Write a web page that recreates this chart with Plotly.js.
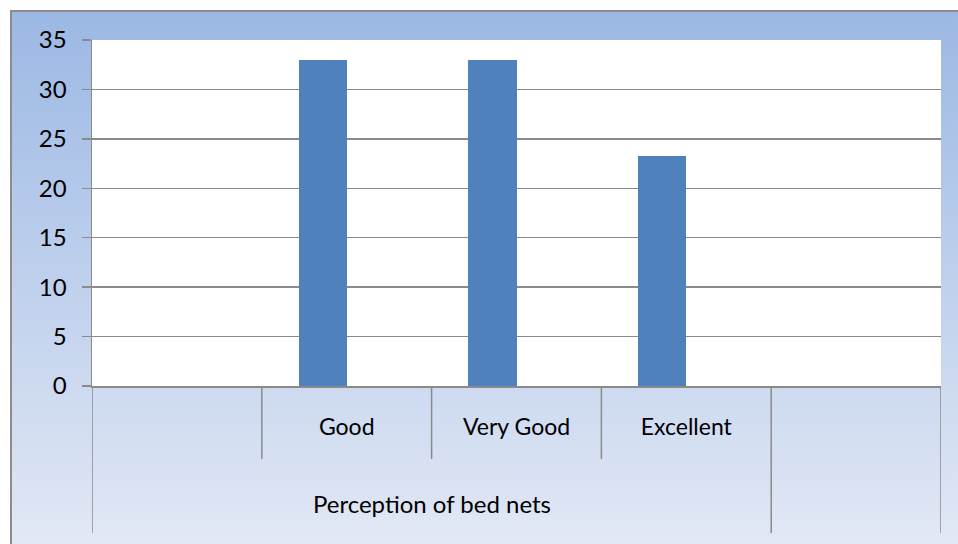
<!DOCTYPE html>
<html>
<head>
<meta charset="utf-8">
<script src="https://cdn.plot.ly/plotly-3.0.1.min.js"></script>
<style>
  html, body { margin: 0; padding: 0; background: #ffffff; }
  #wrap { position: relative; width: 958px; height: 544px; overflow: hidden; background: #ffffff; }
  #frame { position: absolute; left: 10px; top: 10px; width: 1000px; height: 600px;
           border-left: 2px solid #8c8c8c; border-top: 2px solid #8c8c8c;
           background: linear-gradient(to bottom, #9bb8e4 0px, #e2e8f5 534px); }
  #chart { position: absolute; left: 0; top: 0; width: 958px; height: 544px; }
</style>
</head>
<body>
<div id="wrap">
  <div id="frame"></div>
  <div id="chart"></div>
</div>
<script>
// ---- data ----
const categories = ["", "Good", "Very Good", "Excellent", ""];
const groups = ["Perception of bed nets", "Perception of bed nets", "Perception of bed nets", "Perception of bed nets", ""];
const values = [null, 33, 33, 23.3, null];
const yTicks = [0, 5, 10, 15, 20, 25, 30, 35];

// ---- build ----
const xIdx = categories.map((c, i) => i);
const FONT = "Lato, 'Open Sans', 'DejaVu Sans', sans-serif";
const LINE = "#8a8a8a";

const trace = {
  type: "bar",
  x: xIdx,
  y: values,
  width: 0.283,
  offset: -0.283,
  marker: { color: "#4f81bd", line: { width: 0 } },
  hoverinfo: "x+y"
};

// divider lines below the axis
const shapes = [];
const short = -73 / 346, long = -147 / 346;
for (let b = 0; b <= categories.length; b++) {
  const xb = b - 0.5;
  const left = b - 1 >= 0 ? groups[b - 1] : null;
  const right = b < categories.length ? groups[b] : null;
  const isGroupEdge = left !== right;
  shapes.push({
    type: "line", xref: "x", yref: "paper",
    x0: xb, x1: xb, y0: 0, y1: isGroupEdge ? long : short,
    line: { color: LINE, width: 1.5 }
  });
}

// group labels
const annotations = [];
let start = 0;
for (let i = 1; i <= groups.length; i++) {
  if (i === groups.length || groups[i] !== groups[start]) {
    if (groups[start] !== "") {
      annotations.push({
        xref: "x", yref: "paper",
        x: (start + i - 1) / 2, y: -(503 - 386) / 346,
        text: groups[start], showarrow: false,
        font: { family: FONT, size: 24, color: "#000000" },
        xanchor: "center", yanchor: "middle"
      });
    }
    start = i;
  }
}

const layout = {
  width: 958, height: 544,
  margin: { l: 92, r: 17, t: 40, b: 158 },
  paper_bgcolor: "rgba(0,0,0,0)",
  plot_bgcolor: "#ffffff",
  showlegend: false,
  font: { family: FONT, size: 22, color: "#000000" },
  xaxis: {
    range: [-0.5, categories.length - 0.5],
    tickmode: "array", tickvals: xIdx, ticktext: categories,
    ticks: "", showgrid: false, zeroline: false,
    showline: true, linecolor: LINE, linewidth: 1.5,
    ticklabelstandoff: 20,
    tickfont: { family: FONT, size: 23, color: "#000000" },
    fixedrange: true
  },
  yaxis: {
    range: [0, 35],
    tickmode: "array", tickvals: yTicks,
    ticks: "outside", ticklen: 9, tickcolor: LINE, tickwidth: 1.5,
    showgrid: true, gridcolor: LINE, gridwidth: 1.5,
    zeroline: false,
    showline: true, linecolor: LINE, linewidth: 1.5,
    ticklabelstandoff: 10,
    tickfont: { family: FONT, size: 24, color: "#000000" },
    fixedrange: true
  },
  shapes: shapes,
  annotations: annotations,
  bargap: 0
};

Plotly.newPlot("chart", [trace], layout, { displayModeBar: false, staticPlot: true });
</script>
</body>
</html>
